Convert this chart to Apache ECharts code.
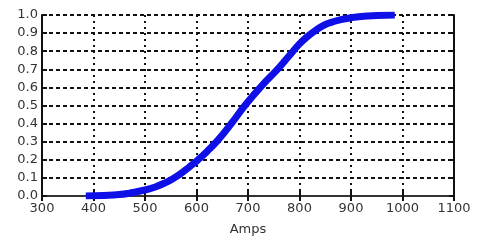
<!DOCTYPE html>
<html><head><meta charset="utf-8">
<script src="https://cdn.jsdelivr.net/npm/echarts@6/dist/echarts.min.js"></script>
<style>html,body{margin:0;padding:0;background:#fff}#c{width:480px;height:241px}</style>
</head><body><div id="c"></div>
<script>
var xTicks = [300, 400, 500, 600, 700, 800, 900, 1000, 1100];
var yTicks = ['0.0','0.1','0.2','0.3','0.4','0.5','0.6','0.7','0.8','0.9','1.0'];
var amps = [385, 420, 450, 470, 500, 520, 540, 555, 570, 585, 603, 620, 642, 668, 694, 727, 759, 780, 800, 815, 830, 845, 860, 880, 900, 920, 950, 985];
var cdf  = [0, 0.003, 0.008, 0.016, 0.033, 0.05, 0.074, 0.097, 0.125, 0.158, 0.2, 0.245, 0.31, 0.402, 0.5, 0.61, 0.705, 0.775, 0.84, 0.88, 0.912, 0.94, 0.958, 0.974, 0.985, 0.992, 0.997, 1.0];
var xLabel = 'Amps';

var pts = amps.map(function(a, i){ return [a, cdf[i]]; });
var font = 'DejaVu Sans';
var lblColor = '#333';
var chart = echarts.init(document.getElementById('c'), null, {renderer:'canvas'});
chart.setOption({
  animation: false,
  grid: {left: 42, right: 26, top: 15, bottom: 43, containLabel: false},
  xAxis: [{
    type: 'value', min: xTicks[0], max: xTicks[xTicks.length-1], interval: 100,
    name: xLabel, nameLocation: 'middle', nameGap: 27,
    nameTextStyle: {fontFamily: font, fontSize: 13, color: lblColor},
    axisLine: {show: true, lineStyle: {color: '#111', width: 2}},
    axisTick: {show: true, inside: true, length: 5, lineStyle: {color: '#111', width: 2}},
    axisLabel: {margin: 6, fontFamily: font, fontSize: 13, color: lblColor,
      formatter: function(v){ return String(v); }},
    splitLine: {show: true, lineStyle: {color: '#111', width: 2, type: [2, 4]}}
  }, {
    type: 'value', position: 'top', min: xTicks[0], max: xTicks[xTicks.length-1], interval: 100,
    axisLine: {show: true, lineStyle: {color: '#333', width: 2}},
    axisTick: {show: true, inside: true, length: 5, lineStyle: {color: '#111', width: 2}},
    axisLabel: {show: false}, splitLine: {show: false}
  }],
  yAxis: [{
    type: 'value', min: 0, max: 1, interval: 0.1,
    axisLine: {show: true, lineStyle: {color: '#111', width: 2}},
    axisTick: {show: true, inside: true, length: 5, lineStyle: {color: '#111', width: 2}},
    axisLabel: {margin: 4, fontFamily: font, fontSize: 13, color: lblColor,
      formatter: function(v){ return yTicks[Math.round(v*10)]; }},
    splitLine: {show: true, lineStyle: {color: '#111', width: 2, type: [4, 3]}}
  }, {
    type: 'value', position: 'right', min: 0, max: 1, interval: 0.1,
    axisLine: {show: true, lineStyle: {color: '#111', width: 2}},
    axisTick: {show: true, inside: true, length: 5, lineStyle: {color: '#111', width: 2}},
    axisLabel: {show: false}, splitLine: {show: false}
  }],
  series: [{
    type: 'line', data: pts, smooth: 0.5, showSymbol: false,
    lineStyle: {color: '#0f0fe8', width: 7}, z: 5
  }]
});
</script></body></html>
